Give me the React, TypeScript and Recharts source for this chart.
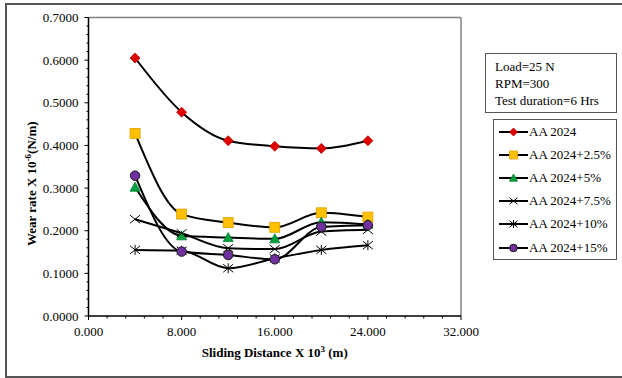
import React from "react";
import { LineChart, Line, XAxis, YAxis, ReferenceLine, Legend } from "recharts";

// sliding distance (x 10^3 m)
const distance = [4, 8, 12, 16, 20, 24];

// wear rate (x 10^-6 N/m)
const aa2024 = [0.605, 0.478, 0.411, 0.398, 0.393, 0.411];
const aa2024p25 = [0.428, 0.239, 0.219, 0.208, 0.242, 0.232];
const aa2024p5 = [0.302, 0.188, 0.184, 0.181, 0.22, 0.215];
const aa2024p75 = [0.227, 0.194, 0.159, 0.157, 0.198, 0.202];
const aa2024p10 = [0.155, 0.153, 0.112, 0.135, 0.155, 0.166];
const aa2024p15 = [0.329, 0.151, 0.143, 0.133, 0.209, 0.213];

const seriesNames = [
  "AA 2024",
  "AA 2024+2.5%",
  "AA 2024+5%",
  "AA 2024+7.5%",
  "AA 2024+10%",
  "AA 2024+15%",
];
const seriesKeys = ["s0", "s1", "s2", "s3", "s4", "s5"];
const seriesShapes = ["diamond", "square", "triangle", "cross", "star", "circle"];

const infoLines = ["Load=25 N", "RPM=300", "Test duration=6 Hrs"];

const yTicks = Array.from({ length: 36 }, (_, i) => +(i * 0.02).toFixed(2));
const xTicks = Array.from({ length: 21 }, (_, i) => +(i * 1.6).toFixed(1));

const data = distance.map((d, i) => ({
  d,
  s0: aa2024[i],
  s1: aa2024p25[i],
  s2: aa2024p5[i],
  s3: aa2024p75[i],
  s4: aa2024p10[i],
  s5: aa2024p15[i],
}));

const FONT = '"Liberation Serif", "Times New Roman", serif';

const Marker = ({ shape, cx, cy, s }: { shape: string; cx: number; cy: number; s: number }) => {
  const h = s / 2;
  switch (shape) {
    case "diamond":
      return (
        <polygon
          points={`${cx},${cy - h} ${cx + h},${cy} ${cx},${cy + h} ${cx - h},${cy}`}
          fill="#e00000"
          stroke="#b00000"
          strokeWidth={0.8}
        />
      );
    case "square":
      return (
        <rect x={cx - h} y={cy - h} width={s} height={s} fill="#ffc000" stroke="#e0a000" strokeWidth={0.8} />
      );
    case "triangle":
      return (
        <polygon
          points={`${cx},${cy - h} ${cx + h},${cy + h * 0.8} ${cx - h},${cy + h * 0.8}`}
          fill="#00a040"
          stroke="#008030"
          strokeWidth={0.8}
        />
      );
    case "cross":
      return (
        <g stroke="#000" strokeWidth={1}>
          <line x1={cx - h} y1={cy - h * 0.8} x2={cx + h} y2={cy + h * 0.8} />
          <line x1={cx - h} y1={cy + h * 0.8} x2={cx + h} y2={cy - h * 0.8} />
        </g>
      );
    case "star":
      return (
        <g stroke="#000" strokeWidth={1}>
          <line x1={cx - h} y1={cy - h * 0.8} x2={cx + h} y2={cy + h * 0.8} />
          <line x1={cx - h} y1={cy + h * 0.8} x2={cx + h} y2={cy - h * 0.8} />
          <line x1={cx} y1={cy - h} x2={cx} y2={cy + h} />
        </g>
      );
    default:
      return <circle cx={cx} cy={cy} r={h * 0.95} fill="#7030a0" stroke="#1a1a1a" strokeWidth={1} />;
  }
};

const YTick = (props: any) => {
  const { x, y, payload } = props;
  const v = payload.value;
  const major = Math.abs(v * 10 - Math.round(v * 10)) < 1e-6;
  return (
    <g>
      <line x1={x - (major ? 4 : 2)} x2={x} y1={y} y2={y} stroke="#000" strokeWidth={1} />
      {major && (
        <text x={x - 10} y={y} dy={4.5} textAnchor="end" fontFamily={FONT} fontSize={13} fill="#000">
          {v.toFixed(4)}
        </text>
      )}
    </g>
  );
};

const XTick = (props: any) => {
  const { x, y, payload } = props;
  const v = payload.value;
  const major = Math.abs(v / 8 - Math.round(v / 8)) < 1e-6;
  return (
    <g>
      <line x1={x} x2={x} y1={y} y2={y + (major ? 4 : 2.5)} stroke="#000" strokeWidth={1} />
      {major && (
        <text x={x} y={y + 20} textAnchor="middle" fontFamily={FONT} fontSize={13} fill="#000">
          {v.toFixed(3)}
        </text>
      )}
    </g>
  );
};

const YTitle = (props: any) => {
  const { x, y, height } = props.viewBox;
  const cx = x + 3;
  const cy = y + height / 2 + 17;
  return (
    <text
      x={cx}
      y={cy}
      dy={4.5}
      transform={`rotate(-90, ${cx}, ${cy})`}
      textAnchor="middle"
      fontFamily={FONT}
      fontSize={13}
      fontWeight="bold"
      fill="#000"
    >
      Wear rate X 10
      <tspan dy={-5} fontSize={9}>-6</tspan>
      <tspan dy={5}>(N/m)</tspan>
    </text>
  );
};

const XTitle = (props: any) => {
  const { x, y, width } = props.viewBox;
  const cx = x + width / 2;
  const cy = y + 36;
  return (
    <text x={cx} y={cy} dy={4.5} textAnchor="middle" fontFamily={FONT} fontSize={13} fontWeight="bold" fill="#000">
      Sliding Distance X 10
      <tspan dy={-5} fontSize={9}>3</tspan>
      <tspan dy={5}> (m)</tspan>
    </text>
  );
};

const LegendBox = () => (
  <div
    style={{
      border: "1px solid #555",
      background: "#fff",
      boxSizing: "border-box",
      width: 124,
      height: 141,
      fontFamily: FONT,
      fontSize: 13,
      color: "#000",
    }}
  >
    {seriesNames.map((name, i) => (
      <div key={name} style={{ display: "flex", alignItems: "center", height: 23.2 }}>
        <svg width={35} height={16} style={{ flex: "none" }}>
          <line x1={5} x2={34} y1={8} y2={8} stroke="#000" strokeWidth={2} />
          <Marker shape={seriesShapes[i]} cx={19.5} cy={8} s={8} />
        </svg>
        <span style={{ whiteSpace: "nowrap" }}>{name}</span>
      </div>
    ))}
  </div>
);

export default function App() {
  return (
    <div style={{ position: "absolute", left: 0, top: 0, width: 622, height: 378, background: "#fff" }}>
      <div
        style={{
          position: "absolute",
          left: 5,
          top: 3,
          width: 617,
          height: 375,
          boxSizing: "border-box",
          borderTop: "2px solid #555",
          borderLeft: "2px solid #555",
          borderBottom: "2px solid #555",
        }}
      />
      <div style={{ position: "absolute", left: 0, top: 0 }}>
        <LineChart width={622} height={378} data={data} margin={{ top: 17.5, right: 161, bottom: 32, left: 28.5 }}>
          <XAxis
            dataKey="d"
            type="number"
            domain={[0, 32]}
            ticks={xTicks}
            interval={0}
            height={30}
            tickSize={0}
            tickMargin={0}
            tickLine={false}
            tick={<XTick />}
            axisLine={{ stroke: "#000", strokeWidth: 1.5 }}
            label={<XTitle />}
          />
          <YAxis
            type="number"
            domain={[0, 0.7]}
            ticks={yTicks}
            interval={0}
            width={60}
            tickSize={0}
            tickMargin={0}
            tickLine={false}
            tick={<YTick />}
            axisLine={{ stroke: "#000", strokeWidth: 1.5 }}
            label={<YTitle />}
          />
          <ReferenceLine y={0.7} stroke="#808080" strokeWidth={1.5} />
          <ReferenceLine x={32} stroke="#808080" strokeWidth={1.5} />
          <Legend
            layout="vertical"
            align="center"
            verticalAlign="middle"
            wrapperStyle={{ position: "absolute", left: 493, top: 119, width: 124, height: 141 }}
            content={() => <LegendBox />}
          />
          {seriesKeys.map((k, i) => (
            <Line
              key={k}
              dataKey={k}
              name={seriesNames[i]}
              type="monotone"
              stroke="#000"
              strokeWidth={2}
              isAnimationActive={false}
              dot={(p: any) => <Marker key={`${k}-${p.index}`} shape={seriesShapes[i]} cx={p.cx} cy={p.cy} s={10} />}
              activeDot={false}
            />
          ))}
        </LineChart>
      </div>
      <div
        style={{
          position: "absolute",
          left: 485,
          top: 53,
          width: 132,
          height: 60,
          boxSizing: "border-box",
          border: "1px solid #555",
          paddingLeft: 9,
          paddingTop: 4,
          fontFamily: FONT,
          fontSize: 13,
          lineHeight: "17px",
          color: "#000",
          background: "#fff",
        }}
      >
        {infoLines.map((t) => (
          <div key={t} style={{ whiteSpace: "nowrap" }}>
            {t}
          </div>
        ))}
      </div>
    </div>
  );
}
